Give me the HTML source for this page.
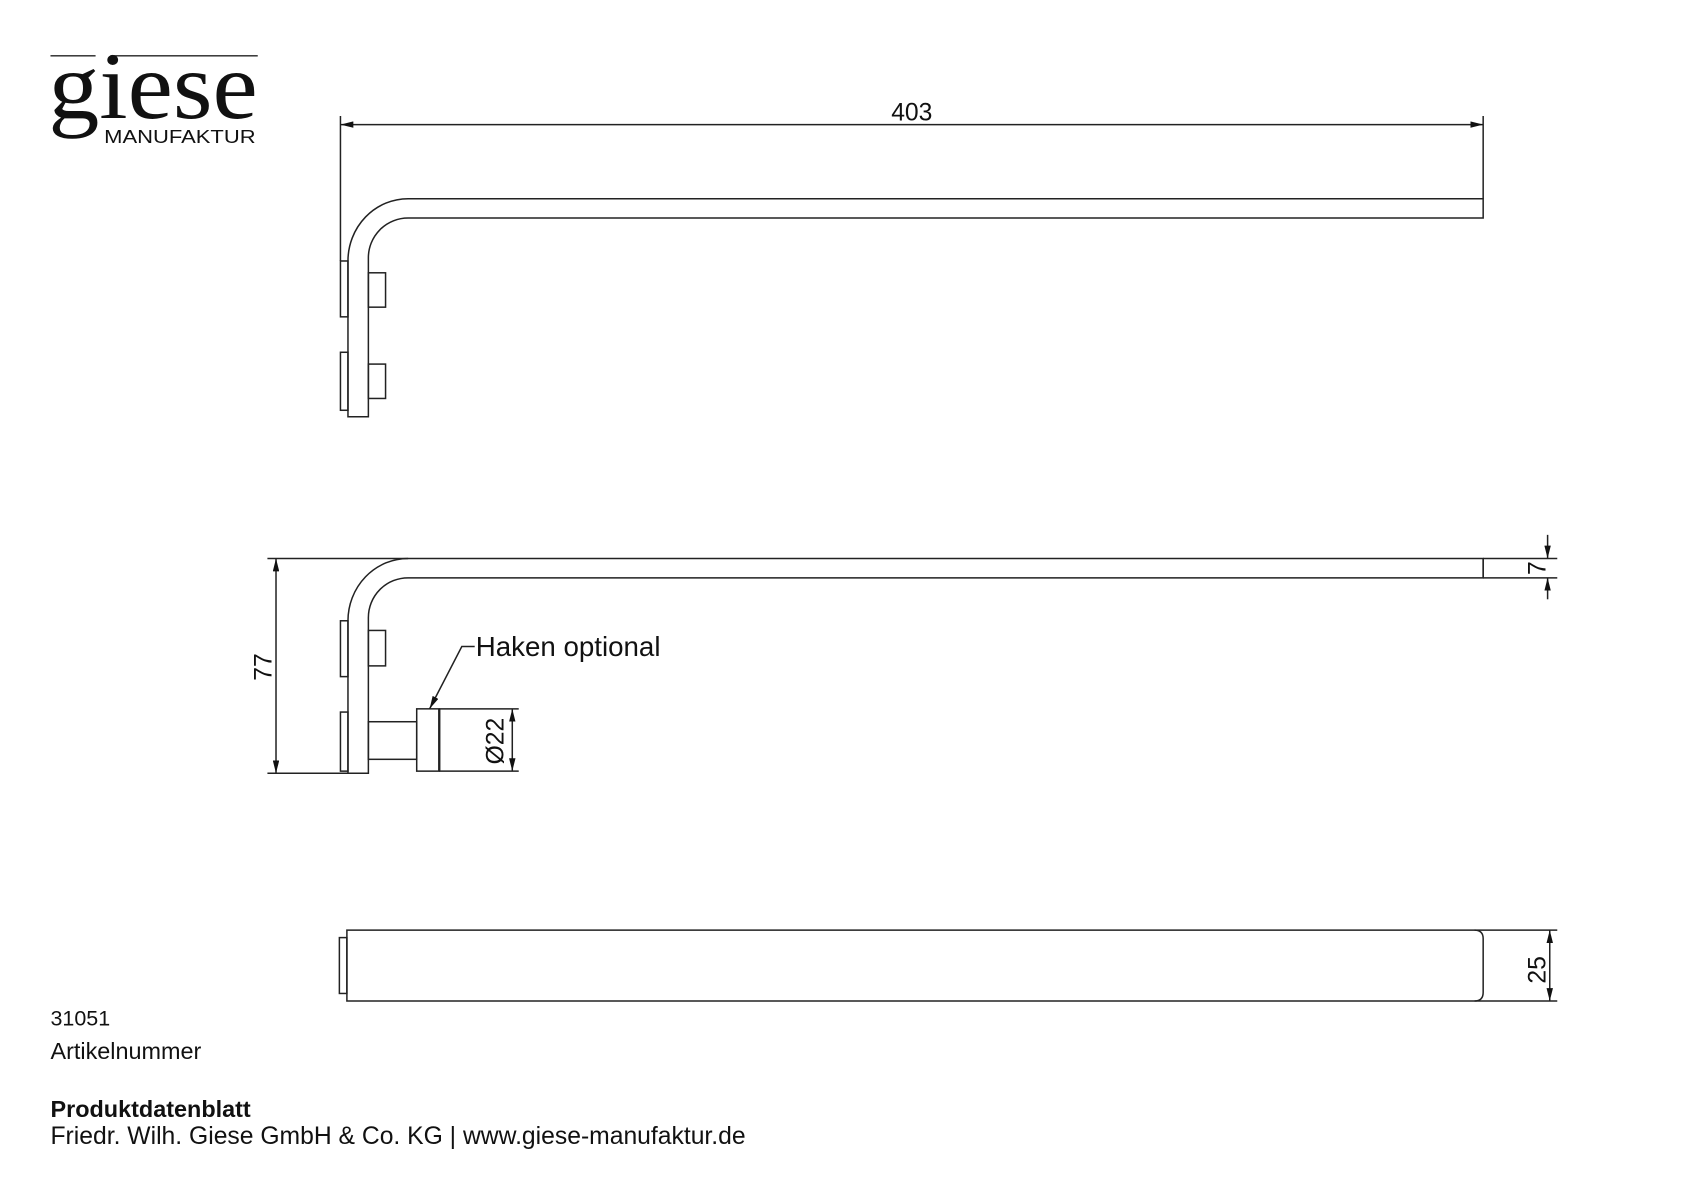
<!DOCTYPE html>
<html><head><meta charset="utf-8"><style>
html,body{margin:0;padding:0;background:#fff;}
svg{display:block;}
text{font-family:"Liberation Sans",sans-serif;fill:#111;}
</style></head><body>
<svg width="1684" height="1190" viewBox="0 0 1568 1108" preserveAspectRatio="none" xmlns="http://www.w3.org/2000/svg">
<defs>
<marker id="a" viewBox="0 0 12 6" refX="12" refY="3" markerWidth="12" markerHeight="6" orient="auto-start-reverse" markerUnits="userSpaceOnUse"><path d="M0,0 L12,3 L0,6 z" fill="#111"/></marker>
</defs>
<g stroke="#222" stroke-width="1.3" fill="none">
<line x1="47" y1="52" x2="89" y2="52"/><line x1="103" y1="52" x2="240" y2="52"/>
</g>
<text x="45" y="110" font-size="89" textLength="195" lengthAdjust="spacingAndGlyphs" style="font-family:'Liberation Serif',serif">giese</text>
<text x="97" y="133" font-size="17" textLength="141" lengthAdjust="spacingAndGlyphs">MANUFAKTUR</text>

<g stroke="#222" stroke-width="1.4" fill="none">
<line x1="317" y1="108" x2="317" y2="243"/>
<line x1="1381" y1="108" x2="1381" y2="185"/>
<line x1="317" y1="116" x2="1381" y2="116" marker-start="url(#a)" marker-end="url(#a)"/>
<path d="M1381,185 H380 A56,58 0 0 0 324,243 V388 H343 V240 A37,37 0 0 1 380,203 H1381 Z"/>
<rect x="317" y="243" width="7" height="52"/>
<rect x="317" y="328" width="7" height="54"/>
<rect x="343" y="254" width="16" height="32"/>
<rect x="343" y="339" width="16" height="32"/>

<path d="M1381,520 H380 A56,58 0 0 0 324,578 V720 H343 V575 A37,37 0 0 1 380,538 H1381 Z"/>
<line x1="1381" y1="520" x2="1381" y2="538"/>
<line x1="249" y1="520" x2="380" y2="520"/>
<line x1="249" y1="720" x2="324" y2="720"/>
<line x1="257" y1="520" x2="257" y2="720" marker-start="url(#a)" marker-end="url(#a)"/>
<rect x="317" y="578" width="7" height="52"/>
<rect x="317" y="663" width="7" height="55"/>
<rect x="343" y="587" width="16" height="33"/>
<rect x="343" y="672" width="45" height="35"/>
<rect x="388" y="660" width="21" height="58"/>
<line x1="409" y1="660" x2="409" y2="718" stroke-width="2.2"/>
<line x1="409" y1="660" x2="483" y2="660"/>
<line x1="409" y1="718" x2="483" y2="718"/>
<line x1="477" y1="660" x2="477" y2="718" marker-start="url(#a)" marker-end="url(#a)"/>
<polyline points="442,602 430,602 400,660" marker-end="url(#a)"/>
<line x1="1381" y1="520" x2="1450" y2="520"/>
<line x1="1381" y1="538" x2="1450" y2="538"/>
<line x1="1441" y1="498" x2="1441" y2="520" marker-end="url(#a)"/>
<line x1="1441" y1="558" x2="1441" y2="538" marker-end="url(#a)"/>

<path d="M323,866 H1373 Q1381,866 1381,874 V924 Q1381,932 1373,932 H323 Z"/>
<rect x="316" y="873" width="7" height="52"/>
<line x1="1373" y1="866" x2="1450" y2="866"/>
<line x1="1373" y1="932" x2="1450" y2="932"/>
<line x1="1443" y1="866" x2="1443" y2="932" marker-start="url(#a)" marker-end="url(#a)"/>
</g>

<text x="849" y="112" font-size="23" text-anchor="middle">403</text>
<text x="443" y="611" font-size="25.8">Haken optional</text>
<text transform="translate(253,621) rotate(-90)" font-size="23" text-anchor="middle">77</text>
<text transform="translate(469,690) rotate(-90)" font-size="23" text-anchor="middle">Ø22</text>
<text transform="translate(1439,529) rotate(-90)" font-size="23" text-anchor="middle">7</text>
<text transform="translate(1439,903) rotate(-90)" font-size="23" text-anchor="middle">25</text>

<text x="47" y="955" font-size="20">31051</text>
<text x="47" y="986" font-size="21.8">Artikelnummer</text>
<text x="47" y="1040" font-size="21.8" font-weight="bold">Produktdatenblatt</text>
<text x="47" y="1065" font-size="23">Friedr. Wilh. Giese GmbH &amp; Co. KG | www.giese-manufaktur.de</text>
</svg>
</body></html>
